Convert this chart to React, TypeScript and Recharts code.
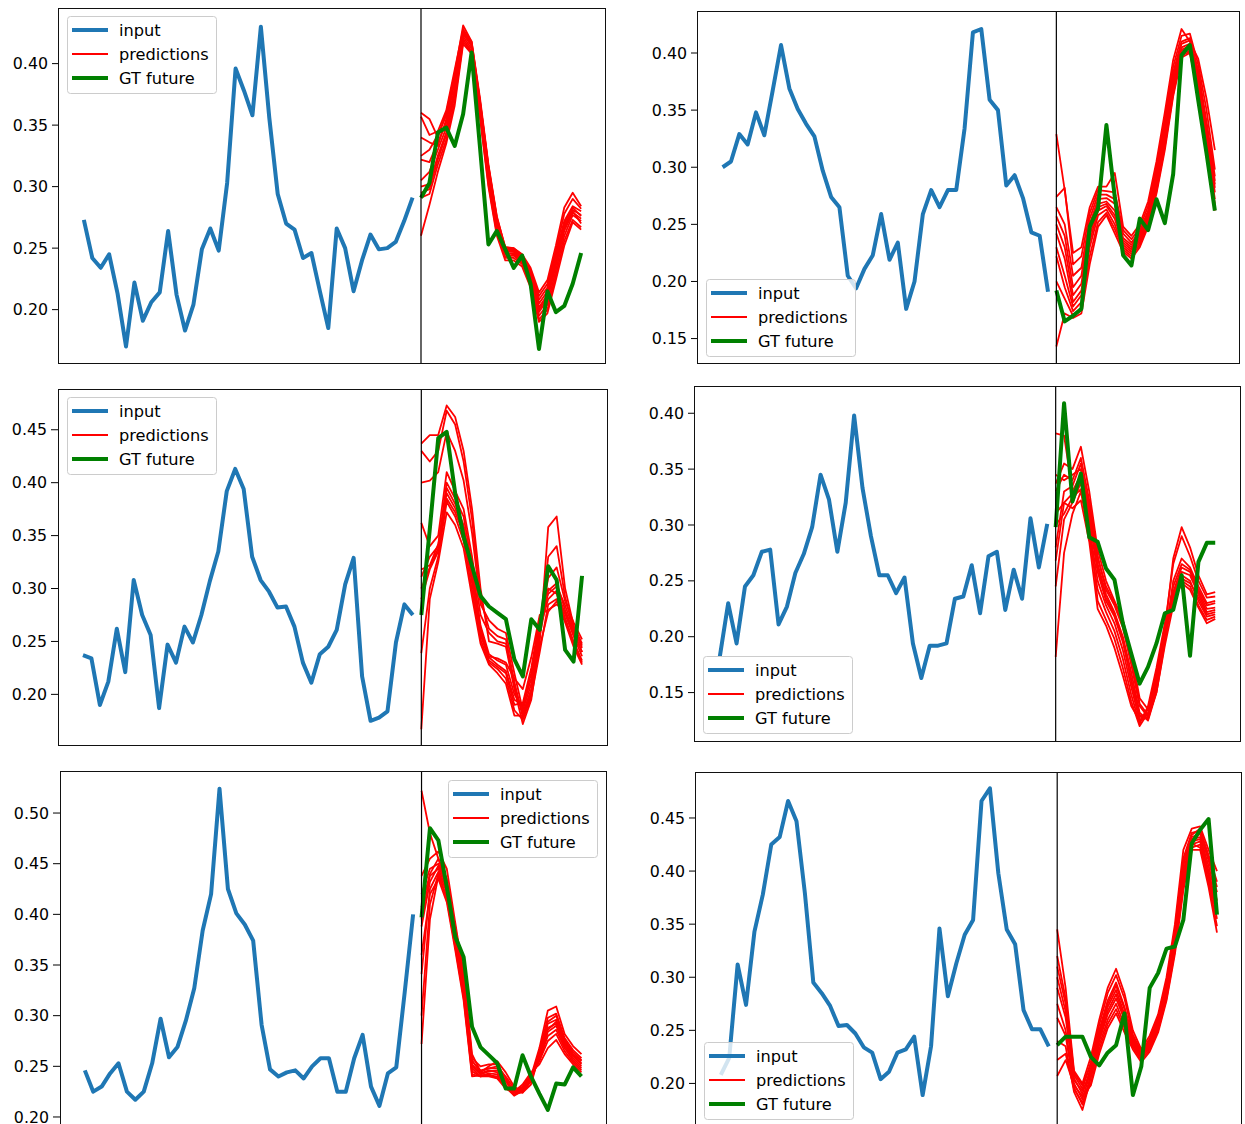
import React from 'react';
import { LineChart, Line, XAxis, YAxis, ReferenceLine } from 'recharts';

// ---------- Panel 1 ----------
const p1Input = [0.273, 0.242, 0.234, 0.245, 0.213, 0.170, 0.222, 0.191, 0.206, 0.214, 0.264, 0.212, 0.183, 0.204, 0.249, 0.266, 0.248, 0.303, 0.396, 0.378, 0.358, 0.430, 0.356, 0.294, 0.270, 0.265, 0.242, 0.246, 0.215, 0.185, 0.266, 0.250, 0.215, 0.240, 0.261, 0.249, 0.250, 0.255, 0.272, 0.291];
const p1Gt = [0.291, 0.303, 0.344, 0.348, 0.333, 0.359, 0.409, 0.332, 0.253, 0.264, 0.249, 0.234, 0.244, 0.221, 0.168, 0.215, 0.198, 0.203, 0.221, 0.246];
const p1Preds = [
  [0.360, 0.355, 0.340, 0.360, 0.392, 0.431, 0.418, 0.372, 0.318, 0.276, 0.250, 0.250, 0.245, 0.234, 0.214, 0.224, 0.252, 0.283, 0.295, 0.284],
  [0.357, 0.342, 0.345, 0.362, 0.395, 0.428, 0.416, 0.368, 0.315, 0.272, 0.248, 0.249, 0.243, 0.230, 0.208, 0.218, 0.245, 0.272, 0.284, 0.280],
  [0.325, 0.330, 0.342, 0.358, 0.390, 0.425, 0.414, 0.365, 0.312, 0.270, 0.247, 0.247, 0.241, 0.228, 0.202, 0.212, 0.240, 0.268, 0.281, 0.277],
  [0.322, 0.320, 0.336, 0.352, 0.385, 0.422, 0.412, 0.362, 0.308, 0.268, 0.245, 0.246, 0.240, 0.225, 0.198, 0.208, 0.236, 0.264, 0.279, 0.274],
  [0.305, 0.312, 0.330, 0.348, 0.380, 0.420, 0.410, 0.360, 0.305, 0.265, 0.243, 0.244, 0.238, 0.222, 0.195, 0.204, 0.232, 0.260, 0.277, 0.272],
  [0.300, 0.302, 0.325, 0.344, 0.378, 0.424, 0.415, 0.366, 0.310, 0.270, 0.246, 0.245, 0.239, 0.226, 0.200, 0.210, 0.238, 0.266, 0.280, 0.270],
  [0.295, 0.298, 0.322, 0.342, 0.375, 0.427, 0.418, 0.370, 0.316, 0.274, 0.249, 0.248, 0.242, 0.229, 0.205, 0.215, 0.244, 0.270, 0.283, 0.276],
  [0.291, 0.294, 0.318, 0.338, 0.370, 0.418, 0.409, 0.358, 0.302, 0.262, 0.242, 0.242, 0.237, 0.220, 0.192, 0.200, 0.228, 0.256, 0.273, 0.267],
  [0.260, 0.285, 0.312, 0.335, 0.366, 0.416, 0.408, 0.356, 0.300, 0.260, 0.240, 0.240, 0.235, 0.218, 0.190, 0.197, 0.224, 0.252, 0.271, 0.265],
  [0.340, 0.336, 0.333, 0.355, 0.388, 0.426, 0.417, 0.369, 0.317, 0.275, 0.251, 0.250, 0.244, 0.232, 0.211, 0.221, 0.248, 0.278, 0.290, 0.282],
];
const p1Ticks = [0.20, 0.25, 0.30, 0.35, 0.40];

// ---------- Panel 2 ----------
const p2Input = [0.300, 0.305, 0.329, 0.320, 0.348, 0.328, 0.367, 0.407, 0.369, 0.351, 0.338, 0.327, 0.297, 0.274, 0.265, 0.205, 0.194, 0.211, 0.223, 0.259, 0.219, 0.234, 0.176, 0.200, 0.259, 0.280, 0.265, 0.280, 0.280, 0.334, 0.418, 0.421, 0.359, 0.350, 0.284, 0.293, 0.273, 0.243, 0.240, 0.191];
const p2Gt = [0.192, 0.165, 0.170, 0.176, 0.248, 0.264, 0.337, 0.274, 0.223, 0.214, 0.255, 0.245, 0.272, 0.251, 0.294, 0.398, 0.407, 0.359, 0.312, 0.262];
const p2Preds = [
  [0.329, 0.280, 0.225, 0.230, 0.265, 0.283, 0.283, 0.295, 0.248, 0.240, 0.250, 0.270, 0.305, 0.348, 0.394, 0.421, 0.410, 0.395, 0.360, 0.315],
  [0.274, 0.282, 0.215, 0.222, 0.260, 0.280, 0.279, 0.278, 0.245, 0.237, 0.247, 0.266, 0.300, 0.342, 0.388, 0.415, 0.417, 0.390, 0.350, 0.298],
  [0.265, 0.250, 0.205, 0.212, 0.255, 0.276, 0.276, 0.272, 0.242, 0.234, 0.244, 0.262, 0.296, 0.338, 0.383, 0.410, 0.413, 0.385, 0.340, 0.292],
  [0.257, 0.240, 0.195, 0.205, 0.250, 0.272, 0.273, 0.268, 0.238, 0.232, 0.242, 0.260, 0.292, 0.334, 0.380, 0.408, 0.411, 0.382, 0.336, 0.288],
  [0.250, 0.230, 0.188, 0.198, 0.245, 0.268, 0.270, 0.262, 0.236, 0.230, 0.240, 0.258, 0.289, 0.330, 0.376, 0.405, 0.408, 0.378, 0.332, 0.285],
  [0.242, 0.220, 0.182, 0.192, 0.240, 0.265, 0.268, 0.258, 0.234, 0.228, 0.238, 0.256, 0.286, 0.327, 0.372, 0.403, 0.406, 0.375, 0.328, 0.282],
  [0.230, 0.205, 0.178, 0.188, 0.235, 0.262, 0.266, 0.255, 0.232, 0.226, 0.236, 0.254, 0.284, 0.324, 0.370, 0.402, 0.404, 0.373, 0.325, 0.278],
  [0.222, 0.195, 0.174, 0.182, 0.230, 0.258, 0.263, 0.250, 0.230, 0.224, 0.234, 0.252, 0.281, 0.320, 0.366, 0.400, 0.402, 0.370, 0.320, 0.272],
  [0.200, 0.185, 0.170, 0.175, 0.222, 0.252, 0.260, 0.246, 0.228, 0.222, 0.232, 0.250, 0.279, 0.318, 0.364, 0.398, 0.401, 0.368, 0.316, 0.268],
  [0.143, 0.172, 0.168, 0.172, 0.215, 0.248, 0.258, 0.242, 0.226, 0.220, 0.230, 0.248, 0.277, 0.315, 0.362, 0.396, 0.400, 0.365, 0.310, 0.262],
];
const p2Ticks = [0.15, 0.20, 0.25, 0.30, 0.35, 0.40];

// ---------- Panel 3 ----------
const p3Input = [0.237, 0.234, 0.190, 0.212, 0.262, 0.221, 0.308, 0.275, 0.256, 0.187, 0.247, 0.230, 0.264, 0.249, 0.275, 0.307, 0.335, 0.392, 0.413, 0.394, 0.330, 0.308, 0.297, 0.282, 0.283, 0.264, 0.230, 0.211, 0.238, 0.245, 0.261, 0.304, 0.329, 0.217, 0.175, 0.178, 0.184, 0.249, 0.285, 0.275];
const p3Gt = [0.275, 0.356, 0.442, 0.448, 0.390, 0.349, 0.321, 0.293, 0.283, 0.277, 0.271, 0.233, 0.217, 0.271, 0.261, 0.321, 0.308, 0.242, 0.231, 0.312];
const p3Preds = [
  [0.437, 0.445, 0.445, 0.473, 0.462, 0.430, 0.375, 0.300, 0.250, 0.248, 0.245, 0.205, 0.172, 0.195, 0.250, 0.358, 0.368, 0.300, 0.265, 0.248],
  [0.430, 0.420, 0.430, 0.468, 0.455, 0.420, 0.365, 0.290, 0.262, 0.255, 0.252, 0.212, 0.178, 0.202, 0.258, 0.330, 0.340, 0.292, 0.262, 0.246],
  [0.400, 0.402, 0.410, 0.448, 0.430, 0.402, 0.352, 0.285, 0.270, 0.262, 0.258, 0.220, 0.185, 0.210, 0.265, 0.310, 0.320, 0.288, 0.268, 0.252],
  [0.362, 0.340, 0.350, 0.410, 0.392, 0.375, 0.330, 0.275, 0.258, 0.250, 0.248, 0.208, 0.182, 0.205, 0.255, 0.298, 0.305, 0.280, 0.258, 0.240],
  [0.311, 0.330, 0.340, 0.400, 0.385, 0.368, 0.322, 0.265, 0.238, 0.232, 0.228, 0.200, 0.188, 0.215, 0.262, 0.290, 0.298, 0.276, 0.255, 0.236],
  [0.300, 0.320, 0.338, 0.395, 0.380, 0.360, 0.315, 0.262, 0.235, 0.228, 0.222, 0.195, 0.190, 0.220, 0.268, 0.295, 0.302, 0.284, 0.262, 0.244],
  [0.290, 0.318, 0.335, 0.385, 0.372, 0.352, 0.305, 0.258, 0.232, 0.226, 0.220, 0.190, 0.192, 0.225, 0.272, 0.300, 0.295, 0.272, 0.250, 0.232],
  [0.239, 0.300, 0.330, 0.382, 0.368, 0.345, 0.298, 0.252, 0.230, 0.224, 0.215, 0.185, 0.176, 0.198, 0.240, 0.285, 0.290, 0.270, 0.248, 0.230],
  [0.167, 0.290, 0.325, 0.372, 0.360, 0.338, 0.292, 0.248, 0.228, 0.220, 0.210, 0.180, 0.180, 0.200, 0.245, 0.278, 0.288, 0.268, 0.245, 0.228],
  [0.318, 0.322, 0.342, 0.390, 0.376, 0.355, 0.310, 0.256, 0.236, 0.234, 0.230, 0.215, 0.205, 0.235, 0.275, 0.280, 0.285, 0.278, 0.260, 0.240],
];
const p3Ticks = [0.20, 0.25, 0.30, 0.35, 0.40, 0.45];

// ---------- Panel 4 ----------
const p4Input = [0.182, 0.230, 0.194, 0.245, 0.255, 0.276, 0.278, 0.211, 0.227, 0.257, 0.274, 0.298, 0.345, 0.323, 0.276, 0.320, 0.398, 0.333, 0.290, 0.255, 0.255, 0.239, 0.253, 0.194, 0.163, 0.192, 0.192, 0.194, 0.234, 0.236, 0.264, 0.221, 0.272, 0.276, 0.224, 0.260, 0.234, 0.306, 0.262, 0.301];
const p4Gt = [0.298, 0.409, 0.321, 0.346, 0.289, 0.285, 0.261, 0.251, 0.212, 0.185, 0.158, 0.173, 0.194, 0.221, 0.224, 0.255, 0.183, 0.267, 0.284, 0.284];
const p4Preds = [
  [0.382, 0.380, 0.330, 0.345, 0.320, 0.270, 0.245, 0.230, 0.210, 0.180, 0.140, 0.130, 0.160, 0.205, 0.270, 0.298, 0.280, 0.255, 0.238, 0.240],
  [0.337, 0.355, 0.350, 0.370, 0.330, 0.278, 0.250, 0.232, 0.215, 0.185, 0.145, 0.135, 0.165, 0.210, 0.265, 0.290, 0.272, 0.250, 0.235, 0.236],
  [0.330, 0.345, 0.340, 0.360, 0.322, 0.272, 0.242, 0.228, 0.208, 0.175, 0.138, 0.128, 0.155, 0.200, 0.245, 0.265, 0.260, 0.242, 0.228, 0.230],
  [0.280, 0.330, 0.335, 0.355, 0.315, 0.265, 0.238, 0.222, 0.200, 0.168, 0.132, 0.125, 0.150, 0.195, 0.240, 0.262, 0.258, 0.240, 0.225, 0.226],
  [0.268, 0.320, 0.328, 0.345, 0.305, 0.258, 0.232, 0.218, 0.195, 0.162, 0.128, 0.130, 0.158, 0.200, 0.238, 0.258, 0.255, 0.238, 0.222, 0.224],
  [0.245, 0.305, 0.320, 0.338, 0.298, 0.250, 0.228, 0.212, 0.188, 0.155, 0.125, 0.135, 0.168, 0.208, 0.235, 0.255, 0.250, 0.232, 0.218, 0.220],
  [0.182, 0.275, 0.310, 0.330, 0.290, 0.242, 0.222, 0.205, 0.180, 0.148, 0.122, 0.138, 0.172, 0.212, 0.232, 0.250, 0.245, 0.228, 0.215, 0.218],
  [0.300, 0.310, 0.325, 0.332, 0.300, 0.232, 0.215, 0.198, 0.172, 0.142, 0.120, 0.132, 0.162, 0.202, 0.230, 0.248, 0.242, 0.226, 0.212, 0.216],
  [0.310, 0.320, 0.315, 0.322, 0.285, 0.225, 0.210, 0.190, 0.165, 0.138, 0.125, 0.128, 0.150, 0.192, 0.228, 0.252, 0.248, 0.235, 0.220, 0.222],
  [0.345, 0.340, 0.345, 0.350, 0.310, 0.262, 0.235, 0.220, 0.198, 0.160, 0.130, 0.126, 0.152, 0.198, 0.250, 0.270, 0.262, 0.245, 0.230, 0.232],
];
const p4Ticks = [0.15, 0.20, 0.25, 0.30, 0.35, 0.40];

// ---------- Panel 5 ----------
const p5Input = [0.246, 0.225, 0.230, 0.243, 0.253, 0.225, 0.217, 0.225, 0.253, 0.297, 0.259, 0.269, 0.295, 0.327, 0.384, 0.420, 0.524, 0.425, 0.401, 0.390, 0.374, 0.291, 0.247, 0.240, 0.244, 0.246, 0.238, 0.250, 0.258, 0.258, 0.225, 0.225, 0.258, 0.281, 0.230, 0.211, 0.243, 0.249, 0.323, 0.400];
const p5Gt = [0.397, 0.485, 0.473, 0.427, 0.378, 0.358, 0.289, 0.269, 0.261, 0.253, 0.228, 0.228, 0.261, 0.240, 0.223, 0.207, 0.233, 0.232, 0.249, 0.240];
const p5Preds = [
  [0.522, 0.480, 0.455, 0.430, 0.385, 0.345, 0.262, 0.245, 0.248, 0.250, 0.240, 0.228, 0.228, 0.240, 0.268, 0.305, 0.309, 0.282, 0.270, 0.262],
  [0.438, 0.455, 0.462, 0.445, 0.392, 0.340, 0.258, 0.250, 0.252, 0.252, 0.238, 0.225, 0.226, 0.238, 0.265, 0.298, 0.302, 0.278, 0.266, 0.258],
  [0.407, 0.440, 0.455, 0.435, 0.385, 0.335, 0.255, 0.246, 0.248, 0.248, 0.235, 0.224, 0.224, 0.236, 0.262, 0.292, 0.296, 0.275, 0.262, 0.255],
  [0.388, 0.432, 0.448, 0.428, 0.380, 0.330, 0.252, 0.243, 0.246, 0.244, 0.232, 0.222, 0.225, 0.235, 0.260, 0.288, 0.292, 0.272, 0.260, 0.252],
  [0.341, 0.425, 0.442, 0.422, 0.376, 0.326, 0.248, 0.240, 0.243, 0.242, 0.230, 0.221, 0.226, 0.238, 0.258, 0.284, 0.290, 0.270, 0.258, 0.250],
  [0.272, 0.395, 0.438, 0.418, 0.372, 0.322, 0.245, 0.240, 0.241, 0.240, 0.229, 0.222, 0.228, 0.240, 0.256, 0.280, 0.286, 0.268, 0.256, 0.248],
  [0.300, 0.410, 0.440, 0.415, 0.368, 0.318, 0.242, 0.240, 0.240, 0.238, 0.228, 0.224, 0.230, 0.242, 0.255, 0.275, 0.282, 0.265, 0.254, 0.246],
  [0.360, 0.420, 0.435, 0.412, 0.365, 0.315, 0.240, 0.241, 0.242, 0.238, 0.230, 0.225, 0.232, 0.244, 0.252, 0.268, 0.276, 0.262, 0.252, 0.244],
  [0.420, 0.445, 0.450, 0.432, 0.388, 0.338, 0.256, 0.244, 0.250, 0.255, 0.244, 0.230, 0.224, 0.232, 0.262, 0.294, 0.300, 0.276, 0.264, 0.256],
  [0.395, 0.438, 0.445, 0.425, 0.378, 0.328, 0.250, 0.242, 0.245, 0.246, 0.236, 0.226, 0.227, 0.237, 0.258, 0.286, 0.294, 0.273, 0.261, 0.253],
];
const p5Ticks = [0.20, 0.25, 0.30, 0.35, 0.40, 0.45, 0.50];

// ---------- Panel 6 ----------
const p6Input = [0.208, 0.224, 0.312, 0.274, 0.343, 0.378, 0.425, 0.432, 0.466, 0.447, 0.379, 0.295, 0.285, 0.273, 0.254, 0.255, 0.247, 0.234, 0.229, 0.204, 0.211, 0.229, 0.232, 0.244, 0.189, 0.235, 0.346, 0.282, 0.313, 0.340, 0.354, 0.466, 0.478, 0.398, 0.345, 0.331, 0.269, 0.251, 0.251, 0.235];
const p6Gt = [0.236, 0.244, 0.244, 0.244, 0.225, 0.217, 0.229, 0.236, 0.266, 0.189, 0.216, 0.290, 0.304, 0.327, 0.329, 0.354, 0.426, 0.439, 0.449, 0.359];
const p6Preds = [
  [0.345, 0.290, 0.212, 0.200, 0.225, 0.260, 0.290, 0.308, 0.285, 0.250, 0.232, 0.245, 0.265, 0.300, 0.350, 0.420, 0.440, 0.442, 0.420, 0.400],
  [0.310, 0.275, 0.208, 0.195, 0.220, 0.255, 0.285, 0.302, 0.280, 0.246, 0.230, 0.242, 0.262, 0.296, 0.345, 0.412, 0.436, 0.438, 0.415, 0.390],
  [0.290, 0.262, 0.205, 0.190, 0.215, 0.250, 0.278, 0.295, 0.272, 0.242, 0.228, 0.240, 0.260, 0.292, 0.340, 0.405, 0.432, 0.435, 0.410, 0.380],
  [0.275, 0.250, 0.200, 0.185, 0.212, 0.245, 0.272, 0.288, 0.265, 0.240, 0.226, 0.238, 0.258, 0.290, 0.336, 0.400, 0.430, 0.432, 0.405, 0.372],
  [0.262, 0.245, 0.196, 0.180, 0.208, 0.240, 0.265, 0.280, 0.260, 0.238, 0.225, 0.236, 0.255, 0.286, 0.332, 0.395, 0.428, 0.430, 0.400, 0.365],
  [0.240, 0.235, 0.192, 0.175, 0.205, 0.236, 0.260, 0.275, 0.255, 0.236, 0.224, 0.234, 0.252, 0.282, 0.328, 0.390, 0.425, 0.428, 0.395, 0.355],
  [0.222, 0.228, 0.195, 0.182, 0.200, 0.232, 0.256, 0.270, 0.252, 0.234, 0.222, 0.232, 0.250, 0.280, 0.325, 0.385, 0.422, 0.425, 0.390, 0.348],
  [0.207, 0.222, 0.198, 0.188, 0.198, 0.228, 0.252, 0.266, 0.248, 0.232, 0.220, 0.230, 0.248, 0.278, 0.322, 0.382, 0.420, 0.420, 0.385, 0.342],
  [0.300, 0.268, 0.203, 0.193, 0.210, 0.242, 0.268, 0.284, 0.262, 0.239, 0.227, 0.237, 0.256, 0.288, 0.334, 0.398, 0.426, 0.422, 0.398, 0.360],
  [0.320, 0.280, 0.210, 0.198, 0.218, 0.248, 0.275, 0.292, 0.270, 0.244, 0.229, 0.241, 0.261, 0.294, 0.342, 0.408, 0.434, 0.440, 0.412, 0.385],
];
const p6Ticks = [0.20, 0.25, 0.30, 0.35, 0.40, 0.45];

// ---------- legend labels ----------
const legendLabels = ['input', 'predictions', 'GT future'];

const INPUT_LEN = 40;
const TOTAL_LEN = 60;
const BLUE = '#1f77b4';
const RED = '#ff0000';
const GREEN = '#008000';
const FONT = '"DejaVu Sans", Verdana, sans-serif';
const FS = 15.8;
const LFS = 16.2;
const YW = 60;
const M = 5;

function buildRows(input: number[], gt: number[], preds: number[][]) {
  const rows: any[] = [];
  for (let x = 0; x < TOTAL_LEN; x++) {
    const r: any = { x };
    if (x < INPUT_LEN) {
      r.input = input[x];
    } else {
      r.gt = gt[x - INPUT_LEN];
      preds.forEach((p, k) => {
        r['p' + k] = p[x - INPUT_LEN];
      });
    }
    rows.push(r);
  }
  return rows;
}

const panels = [
  { input: p1Input, gt: p1Gt, preds: p1Preds, ticks: p1Ticks, domain: [0.1558, 0.4444], box: { l: 58.5, t: 8.5, w: 547, h: 355 }, legend: { l: 66.7, t: 16 } },
  { input: p2Input, gt: p2Gt, preds: p2Preds, ticks: p2Ticks, domain: [0.1281, 0.4359], box: { l: 698, t: 11.7, w: 541.5, h: 351.6 }, legend: { l: 706, t: 279.3 } },
  { input: p3Input, gt: p3Gt, preds: p3Preds, ticks: p3Ticks, domain: [0.1518, 0.4885], box: { l: 58.3, t: 389.3, w: 549, h: 356.4 }, legend: { l: 66.7, t: 397.3 } },
  { input: p4Input, gt: p4Gt, preds: p4Preds, ticks: p4Ticks, domain: [0.1064, 0.4235], box: { l: 695, t: 386.7, w: 545, h: 354.3 }, legend: { l: 703.3, t: 656 } },
  { input: p5Input, gt: p5Gt, preds: p5Preds, ticks: p5Ticks, domain: [0.1908, 0.5405], box: { l: 60.2, t: 771.7, w: 546.3, h: 354.3 }, legend: { l: 448.3, t: 780 } },
  { input: p6Input, gt: p6Gt, preds: p6Preds, ticks: p6Ticks, domain: [0.1602, 0.4933], box: { l: 696, t: 772.3, w: 545.8, h: 353.7 }, legend: { l: 704, t: 1041.7 } },
];

function LegendBox({ l, t }: { l: number; t: number }) {
  const colors = [BLUE, RED, GREEN];
  const widths = [4, 1.8, 4];
  return (
    <svg style={{ position: 'absolute', left: l, top: t, overflow: 'visible' }} width={150} height={78}>
      <rect x={0.5} y={0.5} width={149} height={77} rx={3} ry={3} fill="rgba(255,255,255,0.8)" stroke="#cccccc" strokeWidth={1} />
      {legendLabels.map((lab, i) => (
        <g key={lab}>
          <line x1={5} x2={41} y1={14 + i * 24} y2={14 + i * 24} stroke={colors[i]} strokeWidth={widths[i]} />
          <text x={52} y={14 + i * 24} dominantBaseline="central" fontFamily={FONT} fontSize={LFS} fill="#000">
            {lab}
          </text>
        </g>
      ))}
    </svg>
  );
}

function Panel({ cfg }: { cfg: any }) {
  const rows = buildRows(cfg.input, cfg.gt, cfg.preds);
  const { l, t, w, h } = cfg.box;
  return (
    <>
      <div style={{ position: 'absolute', left: l - YW, top: t - M }}>
        <LineChart width={YW + w + M} height={h + 2 * M} data={rows} margin={{ top: M, right: M, bottom: M, left: 0 }}>
          <XAxis type="number" dataKey="x" domain={[-2.95, 61.95]} hide allowDataOverflow />
          <YAxis
            type="number"
            domain={cfg.domain}
            ticks={cfg.ticks}
            interval={0}
            allowDataOverflow
            width={YW}
            tickSize={7}
            tickMargin={4}
            axisLine={false}
            tickLine={{ stroke: '#000', strokeWidth: 1 }}
            tick={{ fill: '#000', fontSize: FS, fontFamily: FONT }}
            tickFormatter={(v: number) => v.toFixed(2)}
          />
          <Line dataKey="input" stroke={BLUE} strokeWidth={4} dot={false} activeDot={false} isAnimationActive={false} strokeLinejoin="round" />
          {cfg.preds.map((_: number[], k: number) => (
            <Line key={k} dataKey={'p' + k} stroke={RED} strokeWidth={1.8} dot={false} activeDot={false} isAnimationActive={false} strokeLinejoin="round" />
          ))}
          <Line dataKey="gt" stroke={GREEN} strokeWidth={4} dot={false} activeDot={false} isAnimationActive={false} strokeLinejoin="round" />
          <ReferenceLine x={40} stroke="#000" strokeWidth={1.2} />
        </LineChart>
      </div>
      <div
        style={{
          position: 'absolute',
          left: l - 0.6,
          top: t - 0.6,
          width: w + 1.2,
          height: h + 1.2,
          border: '1.2px solid #111',
          boxSizing: 'border-box',
          pointerEvents: 'none',
        }}
      />
      <LegendBox l={cfg.legend.l} t={cfg.legend.t} />
    </>
  );
}

export default function App() {
  return (
    <div style={{ position: 'absolute', left: 0, top: 0, width: 1245, height: 1124, background: '#fff', overflow: 'hidden' }}>
      {panels.map((cfg, i) => (
        <Panel key={i} cfg={cfg} />
      ))}
    </div>
  );
}
